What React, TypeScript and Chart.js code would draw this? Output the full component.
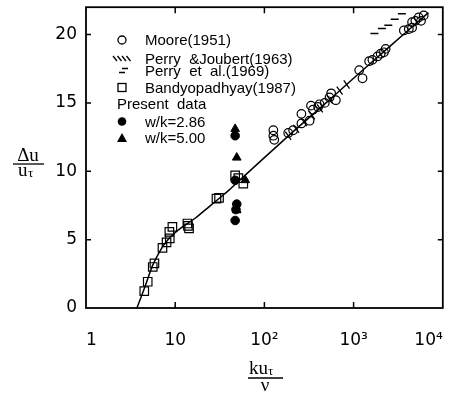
import React, { useEffect, useRef } from 'react';
import { Chart, registerables } from 'chart.js';

Chart.register(...registerables);

// ---- axis ticks ----
const xTickValues = [1, 10, 100, 1000, 10000];
const xTickLabels = ['1', '10', '10²', '10³', '10⁴'];
const yTickValues = [0, 5, 10, 15, 20];
const yTickLabels = ['0', '5', '10', '15', '20'];

// ---- Moore (1951) ----
const mooreX = [126, 129, 126, 185, 210, 260, 260, 321, 350, 415, 333, 400, 475, 537, 560, 632,
  1156, 1259, 1494, 1625, 1849, 2011, 2188, 2286, 3658, 4160, 4525, 4525, 4925, 5370, 5700, 6110];
const mooreY = [12.6, 12.3, 13.0, 12.8, 13.0, 13.5, 14.2, 13.7, 14.5, 14.9, 14.8, 14.7, 15.0, 15.4, 15.7, 15.2,
  17.4, 16.8, 18.05, 18.15, 18.4, 18.6, 18.7, 18.95, 20.3, 20.4, 20.5, 20.9, 21.0, 21.25, 21.0, 21.4];

// ---- Perry & Joubert (1963) ----
const pjX = [185, 227, 278, 341, 419, 541, 698, 836];
const pjY = [12.6, 13.1, 13.6, 14.1, 14.6, 15.25, 15.9, 16.35];

// ---- Perry et al. (1969) ----
const peX = [1711, 2075, 2449, 2891, 3475];
const peY = [20.07, 20.44, 20.68, 21.12, 21.53];

// ---- Bandyopadhyay (1987) ----
const bandX = [4.5, 4.92, 5.6, 5.85, 7.2, 8.0, 8.6, 8.7, 9.3, 13.7, 14.3, 13.9, 29, 31, 47, 58, 51];
const bandY = [1.24, 1.92, 3.0, 3.26, 4.4, 4.8, 5.57, 5.09, 5.93, 6.18, 5.82, 6.0, 8.0, 8.05, 9.7, 9.1, 9.5];

// ---- Present data ----
const w286X = [47, 47, 49, 48, 47];
const w286Y = [12.6, 9.34, 7.6, 7.2, 6.4];
const w500X = [47, 49, 61, 49];
const w500Y = [13.1, 11.0, 9.35, 7.15];

// ---- fitted curve ----
const curveX = [3.72, 4.4, 4.8, 5.6, 7.2, 8.2, 9.75, 12.05, 17, 23.9, 32.2, 39.8, 56, 100, 210, 453, 1000, 2512, 6900];
const curveY = [0, 1.24, 1.93, 3.14, 4.47, 4.96, 5.45, 5.93, 6.6, 7.4, 8.1, 8.6, 9.5, 11.0, 12.9, 14.8, 16.8, 19.1, 21.6];

const legendTexts = ['Moore(1951)', 'Perry  &Joubert(1963)', 'Perry  et  al.(1969)', 'Bandyopadhyay(1987)', 'Present  data', 'w/k=2.86', 'w/k=5.00'];

const zip = (xs: number[], ys: number[]) => xs.map((x, i) => ({ x, y: ys[i] }));

const SANS = '"Liberation Sans", Arial, sans-serif';
const TICKFONT = '"DejaVu Sans", sans-serif';
const SERIF = '"Liberation Serif", "Times New Roman", serif';

const overlayPlugin = {
  id: 'overlay',
  afterDatasetsDraw(chart: any) {
    const { ctx, chartArea, scales } = chart;
    const { left, right, top, bottom } = chartArea;
    const xs = scales.x;
    const ys = scales.y;
    ctx.save();
    ctx.strokeStyle = '#000';
    ctx.fillStyle = '#000';
    ctx.lineWidth = 1.8;
    ctx.strokeRect(left, top, right - left, bottom - top);
    ctx.lineWidth = 1.5;
    ctx.beginPath();
    for (const v of xTickValues.slice(1, -1)) {
      const px = xs.getPixelForValue(v);
      ctx.moveTo(px, bottom); ctx.lineTo(px, bottom - 6);
      ctx.moveTo(px, top); ctx.lineTo(px, top + 6);
    }
    for (const v of yTickValues.slice(1)) {
      const py = ys.getPixelForValue(v);
      ctx.moveTo(left, py); ctx.lineTo(left + 5, py);
      ctx.moveTo(right, py); ctx.lineTo(right - 5, py);
    }
    ctx.stroke();

    // legend
    const symX = 122;
    const txtX = 145;
    const rows = [40, 58.5, 71, 87.5, 103.5, 121.5, 138];
    ctx.font = '15px ' + SANS;
    ctx.textAlign = 'left';
    ctx.textBaseline = 'middle';
    rows.forEach((ry, i) => {
      const tx = i === 4 ? 117 : txtX;
      ctx.fillText(legendTexts[i], tx, ry + 1);
    });
    ctx.lineWidth = 1.3;
    // Moore: open circle
    ctx.beginPath(); ctx.arc(symX, rows[0], 4, 0, Math.PI * 2); ctx.stroke();
    // Perry & Joubert: four slashes
    ctx.beginPath();
    for (let k = 0; k < 4; k++) {
      const cx = 115 + k * 4.5;
      ctx.moveTo(cx - 2, rows[1] - 2.5); ctx.lineTo(cx + 2, rows[1] + 2.5);
    }
    ctx.stroke();
    // Perry et al: staggered dashes
    ctx.beginPath();
    ctx.moveTo(122, rows[2] - 2.5); ctx.lineTo(128, rows[2] - 2.5);
    ctx.moveTo(119, rows[2] + 1.5); ctx.lineTo(125, rows[2] + 1.5);
    ctx.stroke();
    // Bandyopadhyay: open square
    ctx.strokeRect(symX - 4, rows[3] - 4, 8, 8);
    // filled circle
    ctx.beginPath(); ctx.arc(symX, rows[5], 4.3, 0, Math.PI * 2); ctx.fill();
    // filled triangle
    ctx.beginPath();
    ctx.moveTo(symX, rows[6] - 5); ctx.lineTo(symX + 5, rows[6] + 4); ctx.lineTo(symX - 5, rows[6] + 4);
    ctx.closePath(); ctx.fill();

    // y axis title: Δu / uτ
    ctx.textBaseline = 'alphabetic';
    ctx.font = '19px ' + SERIF;
    ctx.textAlign = 'center';
    ctx.fillText('Δu', 28, 161);
    ctx.lineWidth = 1.3;
    ctx.beginPath(); ctx.moveTo(13, 164); ctx.lineTo(44, 164); ctx.stroke();
    ctx.textAlign = 'left';
    ctx.fillText('u', 18, 176);
    ctx.font = '13px ' + SERIF;
    ctx.fillText('τ', 28, 177);

    // x axis title: kuτ / ν
    ctx.font = '19px ' + SERIF;
    ctx.textAlign = 'left';
    ctx.fillText('ku', 249, 374);
    ctx.font = '13px ' + SERIF;
    ctx.fillText('τ', 268, 375);
    ctx.beginPath(); ctx.moveTo(248, 378); ctx.lineTo(283, 378); ctx.stroke();
    ctx.font = '19px ' + SERIF;
    ctx.textAlign = 'center';
    ctx.fillText('ν', 265, 391);
    ctx.restore();
  },
};

export default function App() {
  const canvasRef = useRef<HTMLCanvasElement>(null);
  useEffect(() => {
    if (!canvasRef.current) return;
    const chart = new Chart(canvasRef.current, {
      type: 'scatter',
      data: {
        datasets: [
          {
            label: 'curve', data: zip(curveX, curveY), showLine: true, pointRadius: 0,
            borderColor: '#000', borderWidth: 1.5, tension: 0.25, fill: false,
          } as any,
          {
            label: 'Moore(1951)', data: zip(mooreX, mooreY), pointStyle: 'circle', pointRadius: 4.3,
            borderColor: '#000', backgroundColor: 'rgba(0,0,0,0)', borderWidth: 1.2,
          },
          {
            label: 'Perry &Joubert(1963)', data: zip(pjX, pjY), pointStyle: 'line', pointRadius: 5,
            rotation: 55, borderColor: '#000', borderWidth: 1.3,
          } as any,
          {
            label: 'Perry et al.(1969)', data: zip(peX, peY), pointStyle: 'line', pointRadius: 4,
            rotation: 0, borderColor: '#000', borderWidth: 1.5,
          } as any,
          {
            label: 'Bandyopadhyay(1987)', data: zip(bandX, bandY), pointStyle: 'rect', pointRadius: 6,
            borderColor: '#000', backgroundColor: 'rgba(0,0,0,0)', borderWidth: 1.2,
          },
          {
            label: 'w/k=2.86', data: zip(w286X, w286Y), pointStyle: 'circle', pointRadius: 4.3,
            borderColor: '#000', backgroundColor: '#000', borderWidth: 1,
          },
          {
            label: 'w/k=5.00', data: zip(w500X, w500Y), pointStyle: 'triangle', pointRadius: 5,
            borderColor: '#000', backgroundColor: '#000', borderWidth: 1,
          },
        ],
      },
      options: {
        responsive: false,
        animation: false,
        layout: { padding: { top: 7, right: 4, left: 0, bottom: 0 } },
        plugins: { legend: { display: false }, tooltip: { enabled: false } },
        scales: {
          x: {
            type: 'logarithmic', min: 1, max: 10000,
            grid: { display: false, drawTicks: false }, border: { display: false },
            afterBuildTicks: (s: any) => { s.ticks = xTickValues.map((v) => ({ value: v })); },
            afterFit: (s: any) => { s.height = 86; s.paddingLeft = 0; s.paddingRight = 0; },
            ticks: {
              color: '#000', font: { family: TICKFONT, size: 17 }, padding: 22, maxRotation: 0, autoSkip: false,
              align: 'inner',
              callback: (_v: any, i: number) => xTickLabels[i],
            },
          },
          y: {
            type: 'linear', min: 0, max: 22,
            grid: { display: false, drawTicks: false }, border: { display: false },
            afterBuildTicks: (s: any) => { s.ticks = yTickValues.map((v) => ({ value: v })); },
            afterFit: (s: any) => { s.width = 86; s.paddingTop = 0; s.paddingBottom = 0; },
            ticks: {
              color: '#000', font: { family: TICKFONT, size: 17 }, padding: 9,
              callback: (_v: any, i: number) => yTickLabels[i],
            },
          },
        },
      } as any,
      plugins: [overlayPlugin],
    });
    return () => chart.destroy();
  }, []);
  return (
    <div style={{ position: 'fixed', left: 0, top: 0, width: 450, height: 394, background: '#fff' }}>
      <canvas ref={canvasRef} width={450} height={394} />
    </div>
  );
}
